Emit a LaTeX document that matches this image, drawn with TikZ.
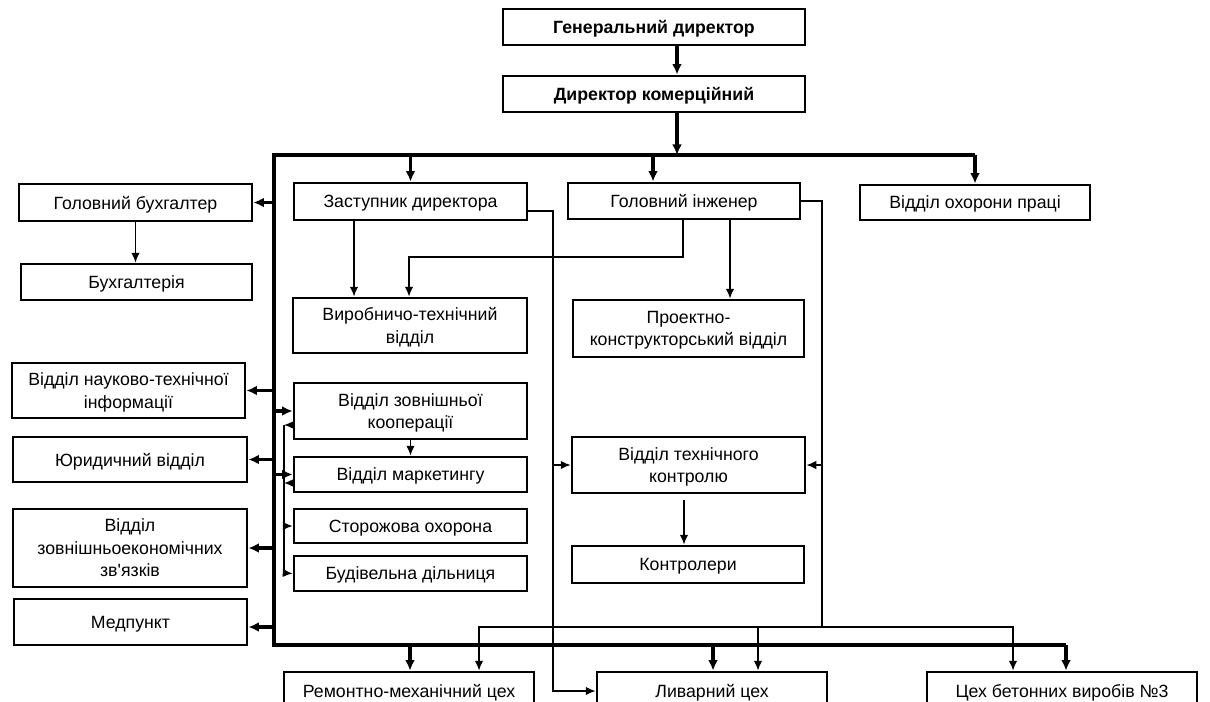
\documentclass[tikz,border=0pt]{standalone}
\usepackage{fontspec}
\setmainfont{Liberation Sans}
\usetikzlibrary{arrows.meta}

\begin{document}
\begin{tikzpicture}[x=0.025cm, y=-0.025cm,
  box/.style 2 args={draw, line width=2pt, align=center, inner sep=1pt,
    minimum width=#1*\px, minimum height=#2*\px, text depth=0pt,
    font=\fontsize{12.6}{16}\selectfont},
  bus/.style={line width=2.2pt},
  busarrow/.style={line width=2.2pt, -{Latex[length=7.5pt,width=7pt]}},
  link/.style={line width=1pt},
  linkarrow/.style={line width=1pt, -{Latex[length=7pt,width=6pt]}}]
% One unit is one pixel of the page
\def\px{0.025cm}
\useasboundingbox (0,0) rectangle (1210,702);
\clip (0,0) rectangle (1210,702);

% Top management
\node[box={302}{36}, font=\fontsize{12.6}{16}\selectfont\bfseries] (gen) at (654,27) {Генеральний директор};
\node[box={302}{36}, font=\fontsize{12.6}{16}\selectfont\bfseries] (dirk) at (654,94) {Директор комерційний};

% Left column
\node[box={233}{37}] (glavbuh) at (135.5,202.5) {Головний бухгалтер};
\node[box={231}{36}] (buh) at (136.5,282) {Бухгалтерія};
\node[box={233}{55}] (nti) at (128.5,390.5) {Відділ науково-технічної\\інформації};
\node[box={234}{45}] (jur) at (130,459.5) {Юридичний відділ};
\node[box={234}{78}] (zes) at (130,548) {Відділ\\зовнішньоекономічних\\зв\textquotesingle язків};
\node[box={233}{46}] (med) at (130.5,622) {Медпункт};

% Middle column
\node[box={233}{37}] (zast) at (410.5,201.5) {Заступник директора};
\node[box={234}{55}] (vyr) at (410,325.5) {Виробничо-технічний\\відділ};
\node[box={233}{56}] (zk) at (410.5,411) {Відділ зовнішньої\\кооперації};
\node[box={233}{35}] (mark) at (410.5,474.5) {Відділ маркетингу};
\node[box={233}{34}] (stor) at (410.5,526) {Сторожова охорона};
\node[box={233}{35}] (bud) at (410.5,573.5) {Будівельна дільниця};

% Right column
\node[box={232}{36}] (glavinzh) at (684,201) {Головний інженер};
\node[box={231}{57}] (proekt) at (688.5,328.5) {Проектно-\\конструкторський відділ};
\node[box={233}{56}] (vtk) at (688.5,465) {Відділ технічного\\контролю};
\node[box={232}{37}] (kontr) at (688,564.5) {Контролери};
\node[box={230}{35}] (ohor) at (975,202.5) {Відділ охорони праці};

% Workshops
\node[box={250}{38}] (rem) at (409,691) {Ремонтно-механічний цех};
\node[box={230}{38}] (liv) at (712,691) {Ливарний цех};
\node[box={270}{38}] (ceh) at (1062,691) {Цех бетонних виробів №3};

% Thick frame
\coordinate (busL) at (274,155);
\coordinate (busR) at (975,155);
\coordinate (busBL) at (274,645);
\coordinate (busBR) at (1066,645);
\draw[bus] (busR) -- (busL) -- (busBL) -- (busBR);

\draw[busarrow] (677,0 |- gen.south) -- (677,0 |- dirk.north);
\draw[busarrow] (677,0 |- dirk.south) -- (677,0 |- busL);
\draw[busarrow] (zast.north |- busL) -- (zast.north);
\draw[busarrow] (653,0 |- busL) -- (653,0 |- glavinzh.north);
\draw[busarrow] (busR) -- (ohor.north);

% From the frame to the left
\draw[busarrow] (busL |- glavbuh.east) -- (glavbuh.east);
\draw[busarrow] (busL |- nti.east) -- (nti.east);
\draw[busarrow] (busL |- jur.east) -- (jur.east);
\draw[busarrow] (busL |- zes.east) -- (zes.east);
\draw[busarrow] (busL |- 0,627) -- (med.east |- 0,627);

% From the frame to the right
\draw[busarrow] (busL |- zk.west) -- (zk.west);
\draw[busarrow] (busL |- mark.west) -- (mark.west);

% Down to the workshops
\draw[busarrow] (410,0 |- busBL) -- (410,0 |- rem.north);
\draw[busarrow] (713,0 |- busBL) -- (713,0 |- liv.north);
\draw[busarrow] (busBR) -- (busBR |- ceh.north);

% Thin links
\draw[linkarrow] (glavbuh.south) -- (glavbuh.south |- buh.north);
\draw[linkarrow] (354,0 |- zast.south) -- (354,0 |- vyr.north);
\draw[linkarrow] (683,0 |- glavinzh.south) |- (409,257) -- (409,0 |- vyr.north);
\draw[linkarrow] (730,0 |- glavinzh.south) -- (730,0 |- proekt.north);
\draw[linkarrow] (zk.south) -- (mark.north);
\draw[linkarrow, shorten <=4pt] (684,0 |- vtk.south) -- (684,0 |- kontr.north);

% Side line of the middle column
\coordinate (sideT) at (284,425);
\coordinate (sideM) at (284,483);
\coordinate (sideB) at (284,573);
\draw[link] (sideT) -- (sideB);
\draw[linkarrow] (zk.west |- sideT) -- (sideT);
\draw[linkarrow] (mark.west |- sideM) -- (sideM);
\draw[linkarrow] (sideT |- stor.west) -- (stor.west);
\draw[linkarrow] (sideB) -- (bud.west);

% Deputy director to quality control and foundry
\coordinate (zr) at (553,211);
\draw[linkarrow] (zast.east |- zr) -- (zr) -- (zr |- liv.west) -- (liv.west);
\draw[linkarrow] (zr |- vtk.west) -- (vtk.west);

% Chief engineer to quality control and workshops
\coordinate (gr) at (822,627);
\draw[link] (glavinzh.east) -- (gr |- glavinzh.east) -- (gr);
\draw[linkarrow] (gr |- vtk.east) -- (vtk.east);
\draw[linkarrow] (gr) -| (479,0 |- rem.north);
\draw[linkarrow] (gr) -| (1013,0 |- ceh.north);
\draw[linkarrow] (758,0 |- gr) -- (758,0 |- liv.north);
\end{tikzpicture}
\end{document}
